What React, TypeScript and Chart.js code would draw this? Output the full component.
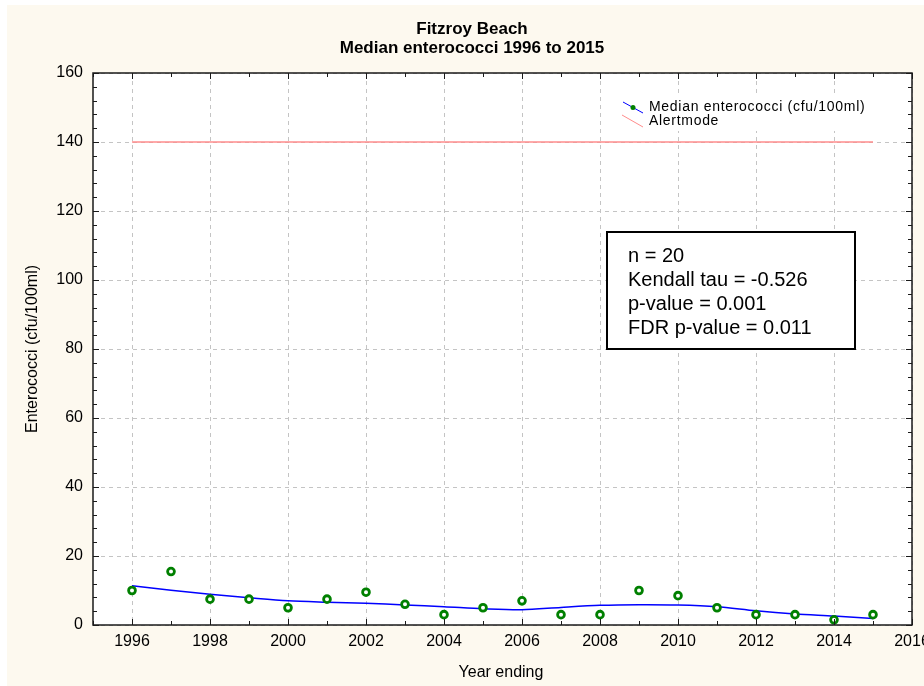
import React, { useEffect, useRef } from "react";
import { Chart, registerables } from "chart.js";

Chart.register(...registerables);

const TITLE_LINES = ["Fitzroy Beach", "Median enterococci 1996 to 2015"];
const X_TITLE = "Year ending";
const Y_TITLE = "Enterococci (cfu/100ml)";

const YEARS = [1996, 1997, 1998, 1999, 2000, 2001, 2002, 2003, 2004, 2005, 2006, 2007, 2008, 2009, 2010, 2011, 2012, 2013, 2014, 2015];
const MEDIANS = [10, 15.5, 7.5, 7.5, 5, 7.5, 9.5, 6, 3, 5, 7, 3, 3, 10, 8.5, 5, 3, 3, 1.5, 3];
const TREND = [11.4, 10.1, 8.9, 7.9, 7.0, 6.6, 6.3, 5.8, 5.3, 4.7, 4.4, 5.1, 5.7, 5.9, 5.8, 5.3, 4.1, 3.2, 2.6, 1.9];

const ALERT_YEARS = [1996, 2015];
const ALERT_VALUE = 140;

const X_TICKS = [1996, 1998, 2000, 2002, 2004, 2006, 2008, 2010, 2012, 2014, 2016];
const X_MIN = 1995;
const X_MAX = 2016;
const Y_MIN = 0;
const Y_MAX = 160;
const Y_STEP = 20;
const Y_MINOR_STEP = 4;

const LEGEND_LABELS = ["Median enterococci (cfu/100ml)", "Alertmode"];
const STATS_LINES = ["n = 20", "Kendall tau = -0.526", "p-value = 0.001", "FDR p-value = 0.011"];

const FONT = '"Liberation Sans", Arial, sans-serif';
const CREAM = "#FDF9EF";
const GREEN = "#008000";
const BLUE = "#0000FF";
const PINK = "#FF8C8C";

const decorPlugin = {
  id: "decor",
  beforeDraw(chart: any) {
    const { ctx, width, height, chartArea: a } = chart;
    ctx.save();
    ctx.fillStyle = "#ffffff";
    ctx.fillRect(0, 0, width, height);
    ctx.fillStyle = CREAM;
    ctx.fillRect(7, 5, width - 7, height - 5);
    ctx.fillStyle = "#ffffff";
    ctx.fillRect(a.left, a.top, a.right - a.left, a.bottom - a.top);
    ctx.restore();
  },
  afterDraw(chart: any) {
    const { ctx, chartArea: a } = chart;
    const xs = chart.scales.x;
    const ys = chart.scales.y;
    ctx.save();

    // frame
    ctx.strokeStyle = "#1a1a1a";
    ctx.lineWidth = 1.5;
    ctx.setLineDash([]);
    ctx.strokeRect(a.left, a.top, a.right - a.left, a.bottom - a.top);

    // inward ticks
    ctx.lineWidth = 1;
    ctx.beginPath();
    for (let v = X_MIN; v <= X_MAX; v += 1) {
      const px = Math.round(xs.getPixelForValue(v)) + 0.5;
      const len = v % 2 === 0 ? 6 : 4;
      ctx.moveTo(px, a.bottom);
      ctx.lineTo(px, a.bottom - len);
      ctx.moveTo(px, a.top);
      ctx.lineTo(px, a.top + len);
    }
    for (let v = Y_MIN; v <= Y_MAX; v += Y_MINOR_STEP) {
      const py = Math.round(ys.getPixelForValue(v)) + 0.5;
      const len = v % Y_STEP === 0 ? 6 : 4;
      ctx.moveTo(a.left, py);
      ctx.lineTo(a.left + len, py);
      ctx.moveTo(a.right, py);
      ctx.lineTo(a.right - len, py);
    }
    ctx.stroke();

    // titles
    ctx.fillStyle = "#000";
    ctx.textAlign = "center";
    ctx.textBaseline = "alphabetic";
    ctx.font = `bold 17px ${FONT}`;
    ctx.fillText(TITLE_LINES[0], 472, 34);
    ctx.fillText(TITLE_LINES[1], 472, 53);

    ctx.font = `16px ${FONT}`;
    ctx.fillText(X_TITLE, 501, 677);
    ctx.save();
    ctx.translate(37, (a.top + a.bottom) / 2);
    ctx.rotate(-Math.PI / 2);
    ctx.fillText(Y_TITLE, 0, 0);
    ctx.restore();

    // legend
    ctx.fillStyle = "#ffffff";
    ctx.fillRect(618, 97, 254, 34);
    ctx.strokeStyle = BLUE;
    ctx.lineWidth = 1;
    ctx.beginPath();
    ctx.moveTo(623, 102);
    ctx.lineTo(643, 113);
    ctx.stroke();
    ctx.fillStyle = GREEN;
    ctx.beginPath();
    ctx.arc(633, 107.5, 2.5, 0, Math.PI * 2);
    ctx.fill();
    ctx.strokeStyle = PINK;
    ctx.beginPath();
    ctx.moveTo(622, 115);
    ctx.lineTo(643, 127);
    ctx.stroke();
    ctx.fillStyle = "#000";
    ctx.textAlign = "left";
    ctx.font = `14px ${FONT}`;
    (ctx as any).letterSpacing = "0.7px";
    ctx.fillText(LEGEND_LABELS[0], 649, 111);
    ctx.fillText(LEGEND_LABELS[1], 649, 125);
    (ctx as any).letterSpacing = "0px";

    // stats box
    ctx.fillStyle = "#ffffff";
    ctx.fillRect(607, 232, 248, 117);
    ctx.strokeStyle = "#000";
    ctx.lineWidth = 2;
    ctx.strokeRect(607, 232, 248, 117);
    ctx.fillStyle = "#000";
    ctx.font = `20px ${FONT}`;
    STATS_LINES.forEach((t, i) => ctx.fillText(t, 628, 262 + i * 24));

    ctx.restore();
  },
};

export default function App() {
  const ref = useRef<HTMLCanvasElement | null>(null);

  useEffect(() => {
    if (!ref.current) return;
    const chart = new Chart(ref.current, {
      type: "scatter",
      data: {
        datasets: [
          {
            label: LEGEND_LABELS[0],
            data: YEARS.map((x, i) => ({ x, y: MEDIANS[i] })),
            showLine: false,
            pointRadius: 3.4,
            pointBorderWidth: 2.8,
            pointBackgroundColor: "#ffffff",
            pointBorderColor: GREEN,
            borderColor: GREEN,
          },
          {
            label: "trend",
            data: YEARS.map((x, i) => ({ x, y: TREND[i] })),
            showLine: true,
            pointRadius: 0,
            borderColor: BLUE,
            borderWidth: 1.5,
            tension: 0.3,
          },
          {
            label: LEGEND_LABELS[1],
            data: ALERT_YEARS.map((x) => ({ x, y: ALERT_VALUE })),
            showLine: true,
            pointRadius: 0,
            borderColor: PINK,
            borderWidth: 1.5,
          },
        ],
      },
      options: {
        animation: false,
        responsive: false,
        devicePixelRatio: 1,
        layout: { padding: { top: 73, right: 12, left: 0, bottom: 0 } },
        plugins: {
          legend: { display: false },
          title: { display: false },
          tooltip: { enabled: false },
        },
        scales: {
          x: {
            type: "linear",
            min: X_MIN,
            max: X_MAX,
            afterBuildTicks: (s: any) => {
              s.ticks = X_TICKS.map((v) => ({ value: v }));
            },
            afterFit: (s: any) => {
              s.height = 61;
              s.paddingLeft = 0;
              s.paddingRight = 0;
            },
            ticks: {
              color: "#000",
              font: { family: FONT, size: 16 },
              padding: 7,
              maxRotation: 0,
              autoSkip: false,
              callback: (v: any) => String(v),
            },
            grid: { color: "#c4c4c4", lineWidth: 1, drawTicks: false },
            border: { display: false, dash: [4, 4] },
          },
          y: {
            type: "linear",
            min: Y_MIN,
            max: Y_MAX,
            afterFit: (s: any) => {
              s.width = 93;
              s.paddingTop = 0;
              s.paddingBottom = 0;
            },
            ticks: {
              stepSize: Y_STEP,
              color: "#000",
              font: { family: FONT, size: 16 },
              padding: 10,
              callback: (v: any) => String(v),
            },
            grid: { color: "#c4c4c4", lineWidth: 1, drawTicks: false },
            border: { display: false, dash: [4, 4] },
          },
        },
      },
      plugins: [decorPlugin],
    });
    return () => chart.destroy();
  }, []);

  return (
    <div style={{ position: "absolute", left: 0, top: 0, width: 924, height: 686 }}>
      <canvas ref={ref} width={924} height={686} style={{ width: 924, height: 686, display: "block" }} />
    </div>
  );
}
